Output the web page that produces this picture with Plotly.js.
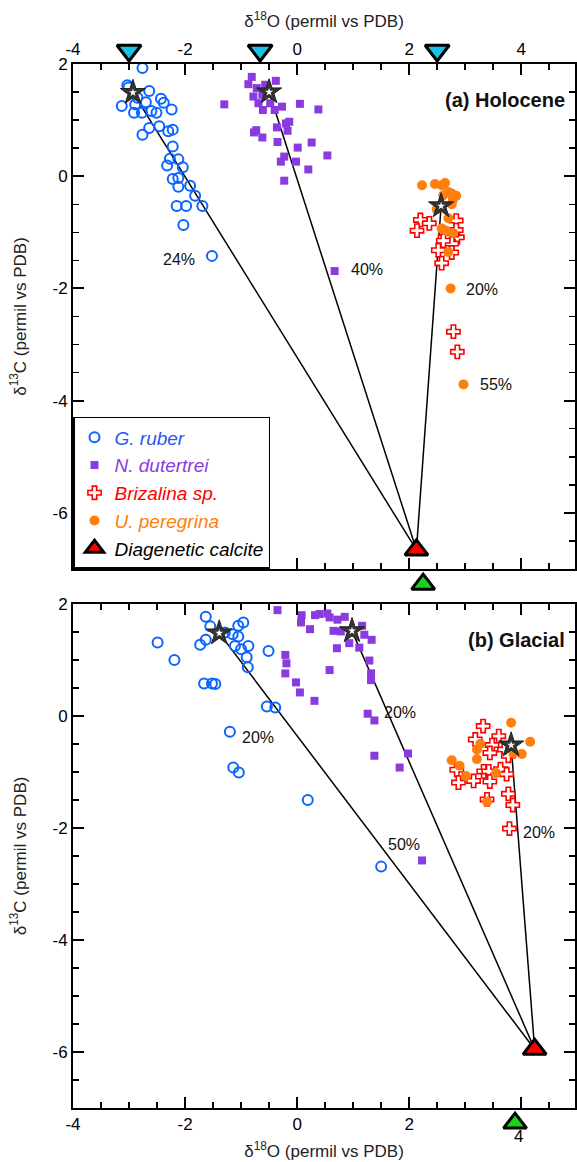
<!DOCTYPE html>
<html>
<head>
<meta charset="utf-8">
<script src="https://cdn.plot.ly/plotly-3.0.1.min.js"></script>
<style>html,body{margin:0;padding:0;background:#fff;}#chart{width:577px;height:1162px;}</style>
</head>
<body>
<div id="chart"></div>
<script>
// ---------- (a) Holocene ----------
const rubH_x = [-2.76,-3.03,-3.01,-2.64,-2.70,-3.13,-2.89,-2.91,-2.77,-2.60,-2.43,-2.38,-2.24,-2.51,-2.64,-2.76,-2.46,-2.30,-2.22,-2.22,-2.27,-2.32,-2.12,-2.04,-2.22,-2.12,-2.12,-1.91,-1.82,-1.69,-2.15,-1.98,-2.03,-1.52,-2.85];
const rubH_y = [1.93,1.62,1.58,1.52,1.32,1.25,1.28,1.13,1.13,1.16,1.38,1.31,1.19,1.13,0.86,0.74,0.89,0.80,0.83,0.53,0.31,0.19,0.30,0.16,-0.05,-0.03,-0.19,-0.17,-0.35,-0.53,-0.53,-0.53,-0.87,-1.42,1.40];
const dutH_x = [-0.81,-0.87,-0.72,-0.57,-0.38,-0.78,-0.69,-0.61,-0.48,-0.40,-0.27,0.05,0.38,-0.14,-0.20,-0.36,-0.17,-0.73,-0.77,-0.62,-0.35,0.01,0.26,0.54,-0.23,-0.29,-0.02,0.20,-0.23,0.67,-1.30,-0.62];
const dutH_y = [1.77,1.64,1.57,1.63,1.70,1.42,1.30,1.18,1.30,1.18,1.24,1.29,1.19,0.97,0.94,0.87,0.81,0.82,0.78,0.69,0.61,0.51,0.60,0.37,0.35,0.26,0.26,0.12,-0.08,-1.69,1.28,1.45];
const brzH_x = [2.20,2.36,2.14,2.84,2.86,2.64,2.76,2.61,2.52,2.76,2.58,2.79,2.86,2.84];
const brzH_y = [-0.78,-0.84,-0.97,-0.79,-1.09,-1.09,-1.20,-1.15,-1.32,-1.36,-1.55,-2.77,-3.13,-0.96];
const perH_x = [2.23,2.46,2.64,2.58,2.70,2.84,2.78,2.76,2.49,2.70,2.58,2.66,2.78,2.70,2.74,2.97,2.61,2.76];
const perH_y = [-0.16,-0.14,-0.12,-0.16,-0.28,-0.35,-0.42,-0.50,-0.59,-0.75,-0.93,-0.97,-1.01,-1.35,-2.00,-3.71,-0.34,-0.31];
const endH_x = [-2.93,-0.50,2.57];
const endH_y = [1.49,1.50,-0.53];
const calcH_x = [2.13];
const calcH_y = [-6.66];
const cyanH_x = [-3.00,-0.66,2.50];
const cyanH_y = [2.24,2.24,2.24];
const greenH_x = [2.25];
const greenH_y = [-7.27];
const labH_x = [-2.11,1.25,3.30,3.55];
const labH_y = [-1.49,-1.67,-2.02,-3.71];
const labH_t = ['24%','40%','20%','55%'];

// ---------- (b) Glacial ----------
const rubG_x = [-1.63,-1.55,-1.63,-1.73,-2.49,-2.19,-1.66,-1.52,-1.46,-1.29,-1.15,-1.05,-0.96,-1.05,-1.11,-1.00,-0.87,-0.90,-0.88,-0.51,-0.54,-0.39,-1.20,-1.14,-1.04,0.19,1.50];
const rubG_y = [1.77,1.60,1.36,1.27,1.31,1.00,0.58,0.58,0.57,1.49,1.46,1.61,1.67,1.42,1.25,1.19,1.25,1.05,0.87,1.16,0.17,0.15,-0.28,-0.92,-1.01,-1.50,-2.69];
const dutG_x = [-0.35,0.08,0.07,0.23,0.32,0.40,0.54,0.58,0.72,0.85,0.65,0.78,1.16,1.20,1.33,0.71,0.93,1.11,-0.21,-0.19,-0.21,-0.02,0.05,0.31,0.58,1.29,1.32,1.32,1.26,1.38,1.38,1.98,1.83,2.23];
const dutG_y = [1.89,1.80,1.67,1.55,1.80,1.82,1.83,1.76,1.72,1.77,1.52,1.51,1.61,1.45,1.36,1.21,1.30,1.22,1.09,0.94,0.76,0.60,0.42,0.27,0.82,0.99,0.76,0.64,0.04,-0.08,-0.71,-0.67,-0.92,-2.58];
const brzG_x = [3.32,3.18,3.60,3.48,3.44,3.70,3.77,2.85,2.88,3.15,3.33,3.42,3.44,3.63,3.74,3.77,3.85,3.79,3.39];
const brzG_y = [-0.18,-0.42,-0.36,-0.52,-0.66,-0.60,-0.71,-0.96,-1.19,-1.16,-0.99,-0.99,-1.17,-0.95,-1.04,-1.39,-1.59,-2.01,-1.49];
const perG_x = [3.82,4.16,4.01,2.76,2.90,3.01,3.27,3.21,3.21,3.55,3.39,3.86];
const perG_y = [-0.12,-0.46,-0.68,-0.79,-0.89,-1.07,-0.50,-0.60,-0.77,-1.02,-1.53,-0.67];
const endG_x = [-1.39,0.98,3.82];
const endG_y = [1.48,1.52,-0.52];
const calcG_x = [4.24];
const calcG_y = [-5.95];
const greenG_x = [3.89];
const greenG_y = [-7.27];
const labG_x = [-0.69,1.84,1.91,4.31];
const labG_y = [-0.39,0.07,-2.30,-2.08];
const labG_t = ['20%','20%','50%','20%'];

// tick labels
const yTickVals = [-6,-4,-2,0,2];
const yTickText = ['-6','-4','-2','0','2'];
const xTickVals = [-4,-2,0,2,4];
const xTickTextTop = ['-4','-2','0','2','4'];
const xTickTextBot = ['-4','-2','0','2',' '];

const FONT = 'Liberation Sans, Arial, sans-serif';
const C_BLUE = '#0a64ff', C_PURP = '#8a3be0', C_RED = '#ff0000', C_ORNG = '#ff7f0e';
const X_RANGE = [-4, 4.96];

function mixLines(ex, ey, cx, cy, xa, ya) {
  return ex.map((v, i) => ({
    x: [v, cx[0]], y: [ey[i], cy[0]], xaxis: xa, yaxis: ya,
    mode: 'lines', line: {color: 'black', width: 1.5}, showlegend: false, hoverinfo: 'skip'
  }));
}
function pts(x, y, xa, ya, kind, name, show) {
  const base = {x: x, y: y, xaxis: xa, yaxis: ya, mode: 'markers', name: name, showlegend: show, cliponaxis: false};
  if (kind === 'rub') base.marker = {symbol: 'circle-open', size: 10, color: C_BLUE, line: {width: 2, color: C_BLUE}};
  if (kind === 'dut') base.marker = {symbol: 'square', size: 8, color: C_PURP};
  if (kind === 'brz') base.marker = {symbol: 'cross', size: 11, color: 'white', line: {width: 1.6, color: C_RED}};
  if (kind === 'per') base.marker = {symbol: 'circle', size: 10, color: C_ORNG};
  return base;
}
function stars(x, y, xa, ya) {
  return [
    {x: x, y: y, xaxis: xa, yaxis: ya, mode: 'markers', showlegend: false, hoverinfo: 'skip',
     marker: {symbol: 'star', size: 19, color: '#333333', line: {width: 1, color: '#222'}}},
    {x: x, y: y, xaxis: xa, yaxis: ya, mode: 'markers', showlegend: false, hoverinfo: 'skip',
     marker: {symbol: 'star', size: 6, color: 'white'}}
  ];
}
function tri(x, y, xa, ya, sym, col, name, show, sz) {
  return {x: x, y: y, xaxis: xa, yaxis: ya, mode: 'markers', name: name, showlegend: show, cliponaxis: false,
          marker: {symbol: sym, size: sz, color: col, line: {width: 3, color: 'black'}}};
}

const data = [].concat(
  mixLines(endH_x, endH_y, calcH_x, calcH_y, 'x', 'y'),
  [pts(rubH_x, rubH_y, 'x', 'y', 'rub', '<i><span style="color:#2f55f0">G. ruber</span></i>', true),
   pts(dutH_x, dutH_y, 'x', 'y', 'dut', '<i><span style="color:#8a3be0">N. dutertrei</span></i>', true),
   pts(brzH_x, brzH_y, 'x', 'y', 'brz', '<i><span style="color:#ff0000">Brizalina sp.</span></i>', true),
   pts(perH_x, perH_y, 'x', 'y', 'per', '<i><span style="color:#ff7f0e">U. peregrina</span></i>', true)],
  stars(endH_x, endH_y, 'x', 'y'),
  [tri(calcH_x, calcH_y, 'x', 'y', 'triangle-up', '#ff0000', '<i>Diagenetic calcite</i>', true, 20),
   tri(cyanH_x, cyanH_y, 'x3', 'y3', 'triangle-down', '#19c3e6', 'cyan', false, 21),
   tri(greenH_x, greenH_y, 'x3', 'y3', 'triangle-up', '#19d219', 'green', false, 20)],
  mixLines(endG_x, endG_y, calcG_x, calcG_y, 'x2', 'y2'),
  [pts(rubG_x, rubG_y, 'x2', 'y2', 'rub', 'G. ruber', false),
   pts(dutG_x, dutG_y, 'x2', 'y2', 'dut', 'N. dutertrei', false),
   pts(brzG_x, brzG_y, 'x2', 'y2', 'brz', 'Brizalina sp.', false),
   pts(perG_x, perG_y, 'x2', 'y2', 'per', 'U. peregrina', false)],
  stars(endG_x, endG_y, 'x2', 'y2'),
  [tri(calcG_x, calcG_y, 'x2', 'y2', 'triangle-up', '#ff0000', 'Diagenetic calcite', false, 20),
   tri(greenG_x, greenG_y, 'x4', 'y4', 'triangle-up', '#19d219', 'green', false, 20)]
);

function xAx(side, anchor, ttext) {
  return {
    anchor: anchor, side: side, range: X_RANGE, tickvals: xTickVals, ticktext: ttext,
    ticks: 'inside', ticklen: 11, tickwidth: 2, tickcolor: 'black',
    showline: true, linewidth: 2, linecolor: 'black', mirror: 'allticks',
    showgrid: false, zeroline: false,
    minor: {dtick: 0.5, tick0: 0, ticks: 'inside', ticklen: 6, tickwidth: 1.5, tickcolor: 'black', showgrid: false},
    tickfont: {family: FONT, size: 17, color: 'black'},
    title: {text: 'δ<sup>18</sup>O (permil vs PDB)', font: {family: FONT, size: 17, color: '#222'}, standoff: side === 'top' ? 8 : 12}
  };
}
function yAx(domain, anchor) {
  return {
    anchor: anchor, domain: domain, range: [-7, 2], tickvals: yTickVals, ticktext: yTickText,
    ticks: 'inside', ticklen: 11, tickwidth: 2, tickcolor: 'black',
    showline: true, linewidth: 2, linecolor: 'black', mirror: 'allticks',
    showgrid: false, zeroline: false,
    minor: {dtick: 0.5, tick0: 0, ticks: 'inside', ticklen: 6, tickwidth: 1.5, tickcolor: 'black', showgrid: false},
    tickfont: {family: FONT, size: 17, color: 'black'},
    title: {text: 'δ<sup>13</sup>C (permil vs PDB)', font: {family: FONT, size: 17, color: '#222'}, standoff: 22}
  };
}
// hidden helper axes with the same scale as the panels, extended so the
// marker symbols just outside the frame (as in the original) stay visible
function helperX(anchor) {
  return {domain: [0, 1], range: X_RANGE, anchor: anchor, visible: false, showline: false,
          showgrid: false, zeroline: false, ticks: '', fixedrange: true};
}
function helperY(domain, range, anchor) {
  return {domain: domain, range: range, anchor: anchor, visible: false, showline: false,
          showgrid: false, zeroline: false, ticks: '', fixedrange: true};
}

const annotations = [];
labH_t.forEach((t, i) => annotations.push({x: labH_x[i], y: labH_y[i], xref: 'x', yref: 'y', text: t, showarrow: false,
  font: {family: FONT, size: 16, color: '#111'}}));
labG_t.forEach((t, i) => annotations.push({x: labG_x[i], y: labG_y[i], xref: 'x2', yref: 'y2', text: t, showarrow: false,
  font: {family: FONT, size: 16, color: '#111'}}));
annotations.push({xref: 'paper', yref: 'paper', x: 0.985, y: 0.9455, xanchor: 'right', yanchor: 'middle',
  text: '<b>(a) Holocene</b>', showarrow: false, font: {family: FONT, size: 20, color: '#111'}});
annotations.push({xref: 'paper', yref: 'paper', x: 0.985, y: 0.4545, xanchor: 'right', yanchor: 'middle',
  text: '<b>(b) Glacial</b>', showarrow: false, font: {family: FONT, size: 20, color: '#111'}});
annotations.push({xref: 'paper', yref: 'paper', x: 0.8865, y: 0.003, xanchor: 'center', yanchor: 'middle',
  text: '4', showarrow: false, font: {family: FONT, size: 17, color: 'black'}});

const layout = {
  width: 577, height: 1162,
  margin: {l: 73, r: 2, t: 40, b: 22},
  paper_bgcolor: 'white', plot_bgcolor: 'rgba(0,0,0,0)',
  font: {family: FONT},
  xaxis: xAx('top', 'y', xTickTextTop),
  yaxis: yAx([0.5191, 0.9782], 'x'),
  xaxis2: xAx('bottom', 'y2', xTickTextBot),
  yaxis2: yAx([0.0291, 0.4873], 'x2'),
  xaxis3: helperX('y3'),
  yaxis3: helperY([0.4909, 1], [-7.5525, 2.4277], 'x3'),
  xaxis4: helperX('y4'),
  yaxis4: helperY([0, 0.5], [-7.5714, 2.25], 'x4'),
  showlegend: true,
  legend: {x: 0, y: 0.5191, xanchor: 'left', yanchor: 'bottom', bgcolor: 'white',
    bordercolor: 'black', borderwidth: 1.5,
    font: {family: FONT, size: 19, color: 'black', style: 'italic'}, itemclick: false},
  annotations: annotations
};

Plotly.newPlot('chart', data, layout, {displayModeBar: false, staticPlot: true});
</script>
</body>
</html>
